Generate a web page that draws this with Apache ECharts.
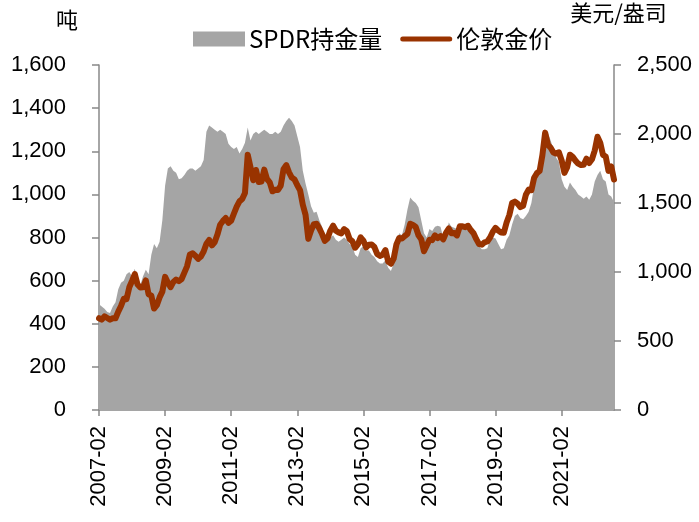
<!DOCTYPE html>
<html lang="zh">
<head>
<meta charset="UTF-8">
<title>SPDR持金量与伦敦金价</title>
<script src="https://cdn.jsdelivr.net/npm/echarts@6/dist/echarts.min.js"></script>
<style>
  html, body { margin: 0; padding: 0; background: #fff; }
  #main { width: 699px; height: 522px; }
</style>
</head>
<body>
<div id="main"></div>
<script type="text/javascript">
// months 2007-02 .. 2022-09
var months = [];
for (var y = 2007; y <= 2022; y++) {
  for (var m = 1; m <= 12; m++) {
    if (y === 2007 && m < 2) continue;
    if (y === 2022 && m > 9) continue;
    months.push(y + '-' + (m < 10 ? '0' + m : m));
  }
}

// SPDR holdings, tonnes (monthly)
var spdr2007 = [490, 480, 470, 455, 450, 480, 500, 560, 590, 600, 630];
var spdr2008 = [640, 620, 655, 600, 580, 620, 650, 630, 720, 770, 750, 780];
var spdr2009 = [880, 1040, 1120, 1130, 1110, 1100, 1070, 1075, 1090, 1110, 1120, 1120];
var spdr2010 = [1110, 1120, 1130, 1160, 1290, 1320, 1310, 1300, 1290, 1300, 1290, 1280];
var spdr2011 = [1235, 1220, 1210, 1220, 1190, 1210, 1240, 1310, 1250, 1280, 1290, 1280];
var spdr2012 = [1290, 1300, 1290, 1280, 1280, 1290, 1280, 1290, 1320, 1340, 1355, 1340];
var spdr2013 = [1320, 1270, 1220, 1110, 1050, 1000, 945, 915, 920, 880, 850, 800];
var spdr2014 = [800, 800, 810, 790, 780, 790, 800, 790, 770, 760, 720, 710];
var spdr2015 = [750, 760, 740, 740, 720, 710, 690, 680, 680, 695, 660, 645];
var spdr2016 = [680, 780, 820, 810, 860, 930, 985, 970, 960, 940, 880, 820];
var spdr2017 = [800, 840, 830, 850, 855, 850, 800, 810, 870, 850, 845, 840];
var spdr2018 = [850, 845, 860, 860, 855, 830, 800, 760, 745, 745, 750, 790];
var spdr2019 = [800, 795, 770, 745, 750, 790, 810, 860, 900, 910, 890, 885];
var spdr2020 = [900, 920, 960, 1040, 1100, 1160, 1200, 1270, 1285, 1250, 1210, 1170];
var spdr2021 = [1150, 1070, 1035, 1020, 1055, 1035, 1020, 1000, 990, 980, 990, 975];
var spdr2022 = [1000, 1060, 1090, 1110, 1070, 1060, 1000, 990, 965];

// London gold price, USD/oz (monthly)
var gold2007 = [665, 655, 679, 667, 655, 665, 665, 713, 754, 806, 803];
var gold2008 = [889, 935, 985, 909, 888, 889, 939, 839, 829, 735, 760, 816];
var gold2009 = [858, 965, 924, 890, 928, 945, 934, 949, 996, 1043, 1127, 1135];
var gold2010 = [1118, 1095, 1113, 1148, 1205, 1232, 1193, 1215, 1271, 1343, 1370, 1391];
var gold2011 = [1356, 1372, 1424, 1474, 1512, 1529, 1573, 1850, 1760, 1665, 1739, 1652];
var gold2012 = [1656, 1742, 1674, 1650, 1585, 1596, 1594, 1626, 1745, 1775, 1722, 1684];
var gold2013 = [1671, 1628, 1593, 1487, 1414, 1240, 1300, 1347, 1349, 1316, 1275, 1225];
var gold2014 = [1244, 1300, 1336, 1299, 1287, 1279, 1311, 1296, 1239, 1222, 1176, 1200];
var gold2015 = [1251, 1227, 1178, 1198, 1199, 1181, 1131, 1117, 1125, 1159, 1075, 1060];
var gold2016 = [1097, 1200, 1246, 1242, 1260, 1276, 1350, 1341, 1326, 1266, 1238, 1150];
var gold2017 = [1192, 1234, 1231, 1266, 1246, 1260, 1236, 1283, 1315, 1280, 1283, 1265];
var gold2018 = [1331, 1331, 1325, 1335, 1304, 1281, 1238, 1202, 1198, 1215, 1221, 1250];
var gold2019 = [1292, 1320, 1300, 1286, 1284, 1359, 1413, 1500, 1510, 1495, 1470, 1480];
var gold2020 = [1560, 1597, 1592, 1683, 1716, 1732, 1847, 2010, 1922, 1900, 1866, 1858];
var gold2021 = [1867, 1808, 1718, 1760, 1850, 1834, 1807, 1785, 1775, 1777, 1821, 1790];
var gold2022 = [1817, 1880, 1980, 1937, 1849, 1837, 1733, 1765, 1670];

var spdr = [].concat(spdr2007, spdr2008, spdr2009, spdr2010, spdr2011, spdr2012, spdr2013,
  spdr2014, spdr2015, spdr2016, spdr2017, spdr2018, spdr2019, spdr2020, spdr2021, spdr2022);
var gold = [].concat(gold2007, gold2008, gold2009, gold2010, gold2011, gold2012, gold2013,
  gold2014, gold2015, gold2016, gold2017, gold2018, gold2019, gold2020, gold2021, gold2022);

var numFont = "'Liberation Sans', 'Noto Sans CJK SC', sans-serif";
var cjkFont = "'Noto Sans CJK SC', sans-serif";

function fmt(v) {
  return v.toString().replace(/\B(?=(\d{3})+(?!\d))/g, ',');
}

var chart = echarts.init(document.getElementById('main'));
var option = {
  animation: false,
  backgroundColor: '#fff',
  grid: { left: 99, right: 85, top: 65, bottom: 112, containLabel: false },
  legend: {
    top: 22,
    left: 188,
    itemGap: 18,
    itemWidth: 52,
    itemHeight: 15,
    textStyle: { fontSize: 24, color: '#000', fontFamily: cjkFont, padding: [0, 0, 0, -1] },
    data: [
      { name: 'SPDR持金量', icon: 'rect' },
      { name: '伦敦金价', icon: 'path://M5,0 L99,0 A5,5 0 0 1 99,10 L5,10 A5,5 0 0 1 5,0 Z' }
    ]
  },
  xAxis: {
    type: 'category',
    data: months,
    boundaryGap: false,
    axisLine: { lineStyle: { color: '#888', width: 1.5 } },
    axisTick: { interval: 23, length: 6, lineStyle: { color: '#888', width: 1.5 } },
    axisLabel: {
      interval: 23,
      rotate: 90,
      fontSize: 22,
      color: '#000',
      fontFamily: numFont,
      margin: 16
    }
  },
  yAxis: [
    {
      type: 'value',
      min: 0, max: 1600, interval: 200,
      name: '吨',
      nameLocation: 'end',
      nameGap: 34,
      nameTextStyle: { fontSize: 22, color: '#000', fontFamily: cjkFont, align: 'center', padding: [0, 64, 0, 0] },
      axisLine: { show: true, lineStyle: { color: '#888', width: 1.5 } },
      axisTick: { show: true, length: 7, lineStyle: { color: '#888', width: 1.5 } },
      splitLine: { show: false },
      axisLabel: { fontSize: 22, color: '#000', fontFamily: numFont, margin: 33, formatter: fmt }
    },
    {
      type: 'value',
      min: 0, max: 2500, interval: 500,
      name: '美元/盎司',
      nameLocation: 'end',
      nameGap: 41,
      nameTextStyle: { fontSize: 22, color: '#000', fontFamily: cjkFont, align: 'center', padding: [0, 0, 0, 9] },
      axisLine: { show: true, lineStyle: { color: '#888', width: 1.5 } },
      axisTick: { show: true, length: 7, lineStyle: { color: '#888', width: 1.5 } },
      splitLine: { show: false },
      axisLabel: { fontSize: 22, color: '#000', fontFamily: numFont, margin: 23, formatter: fmt }
    }
  ],
  series: [
    {
      name: 'SPDR持金量',
      type: 'line',
      yAxisIndex: 0,
      data: spdr,
      showSymbol: false,
      symbol: 'none',
      lineStyle: { width: 0, color: '#a5a5a5' },
      itemStyle: { color: '#a5a5a5' },
      areaStyle: { color: '#a5a5a5', opacity: 1 }
    },
    {
      name: '伦敦金价',
      type: 'line',
      yAxisIndex: 1,
      data: gold,
      showSymbol: false,
      symbol: 'none',
      lineStyle: { width: 6, color: '#993300', cap: 'round', join: 'round' },
      itemStyle: { color: '#993300' }
    }
  ]
};
chart.setOption(option);
</script>
</body>
</html>
